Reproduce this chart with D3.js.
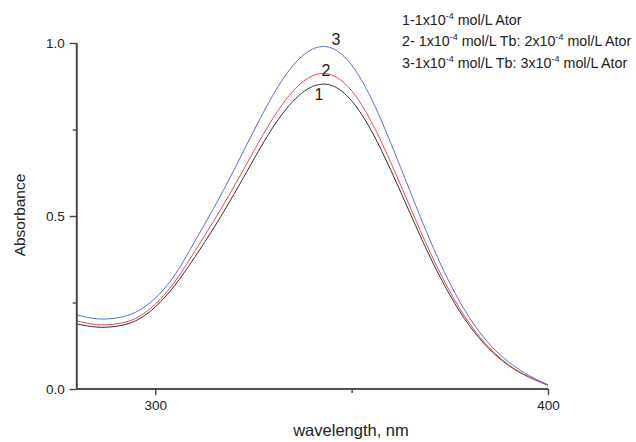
<!DOCTYPE html>
<html><head><meta charset="utf-8">
<script src="https://cdn.jsdelivr.net/npm/d3@7"></script>
<style>
html,body{margin:0;padding:0;background:#fff;}
text{font-family:"Liberation Sans",Arial,sans-serif;fill:#222;}
</style></head>
<body><svg id="c" width="636" height="442"></svg>
<script>
const wavelengths = [280,285,290,295,300,305,310,315,320,325,330,335,340,345,350,355,360,365,370,375,380,385,390,395,400];
const series1 = [0.188,0.179,0.181,0.197,0.237,0.300,0.380,0.467,0.562,0.662,0.757,0.831,0.874,0.877,0.833,0.747,0.632,0.505,0.381,0.272,0.183,0.116,0.068,0.035,0.011];
const series2 = [0.197,0.186,0.188,0.204,0.245,0.310,0.397,0.488,0.584,0.686,0.783,0.860,0.905,0.907,0.862,0.773,0.654,0.523,0.395,0.282,0.190,0.120,0.070,0.036,0.011];
const series3 = [0.214,0.203,0.205,0.222,0.262,0.330,0.425,0.525,0.632,0.744,0.850,0.934,0.982,0.985,0.936,0.840,0.710,0.568,0.429,0.306,0.206,0.131,0.078,0.040,0.012];
const seriesNames = ["1","2","3"];
const seriesColors = ["#333333","#ee4b4b","#5a6fd8"];
const xMajorTicks = [300,400];
const xMinorTicks = [350];
const yMajorTicks = [0.0,0.5,1.0];
const yMinorTicks = [0.25,0.75];
const xTitle = "wavelength, nm";
const yTitle = "Absorbance";

const svg = d3.select("#c");
const x = d3.scaleLinear().domain([280,400]).range([76.7,548]);
const y = d3.scaleLinear().domain([0,1]).range([389,43]);

const allSeries = [series1, series2, series3];
const line = d3.line().x((d,i)=>x(wavelengths[i])).y(d=>y(d)).curve(d3.curveNatural);
allSeries.forEach((s,k)=>{
  svg.append("path").attr("d", line(s)).attr("fill","none")
    .attr("stroke", seriesColors[k]).attr("stroke-width",1);
});

const axisColor = "#444";
const gx = svg.append("g").attr("transform",`translate(0,${y(0)})`)
  .call(d3.axisBottom(x).tickValues(xMajorTicks).tickFormat(d3.format("d")).tickSize(6).tickPadding(5));
gx.append("g").call(d3.axisBottom(x).tickValues(xMinorTicks).tickFormat("").tickSize(4));
const gy = svg.append("g").attr("transform",`translate(${x(280)},0)`)
  .call(d3.axisLeft(y).tickValues(yMajorTicks).tickFormat(d3.format(".1f")).tickSize(7).tickPadding(5));
gy.append("g").call(d3.axisLeft(y).tickValues(yMinorTicks).tickFormat("").tickSize(4));
svg.selectAll(".domain").attr("stroke",axisColor).attr("stroke-width",1.6);
svg.selectAll(".tick line").attr("stroke",axisColor).attr("stroke-width",1.4);
svg.selectAll(".tick text").attr("font-size",13.5).attr("fill","#222").style("font-family","Liberation Sans, Arial, sans-serif");
gx.selectAll(".domain").attr("d",`M${x(280)},0H${x(400)}`);
gy.selectAll(".domain").attr("d",`M0,${y(0)}V${y(1)}`);

svg.append("text").attr("x",351).attr("y",436).attr("text-anchor","middle").attr("font-size",16.5).text(xTitle);
svg.append("text").attr("transform","translate(25,215) rotate(-90)").attr("text-anchor","middle").attr("font-size",15.5).text(yTitle);

const labelPos = [[319,100],[326,76],[336,45]];
seriesNames.forEach((n,k)=>{
  svg.append("text").attr("x",labelPos[k][0]).attr("y",labelPos[k][1]).attr("text-anchor","middle").attr("font-size",16).text(n);
});

const legendLines = [
  [["1-1x10",""],["-4","sup"],[" mol/L Ator",""]],
  [["2- 1x10",""],["-4","sup"],[" mol/L Tb: 2x10",""],["-4","sup"],[" mol/L Ator",""]],
  [["3-1x10",""],["-4","sup"],[" mol/L Tb: 3x10",""],["-4","sup"],[" mol/L Ator",""]]
];
const legendY = [24.5,46,67.5];
legendLines.forEach((parts,i)=>{
  const t = svg.append("text").attr("x",402).attr("y",legendY[i]).attr("font-size",14.3);
  parts.forEach(p=>{
    if(p[1]==="sup"){
      t.append("tspan").attr("font-size",9).attr("dy",-6).text(p[0]);
    } else {
      const ts = t.append("tspan").text(p[0]);
      if(t.selectAll("tspan").size()>1) ts.attr("dy",6);
    }
  });
});
</script></body></html>
